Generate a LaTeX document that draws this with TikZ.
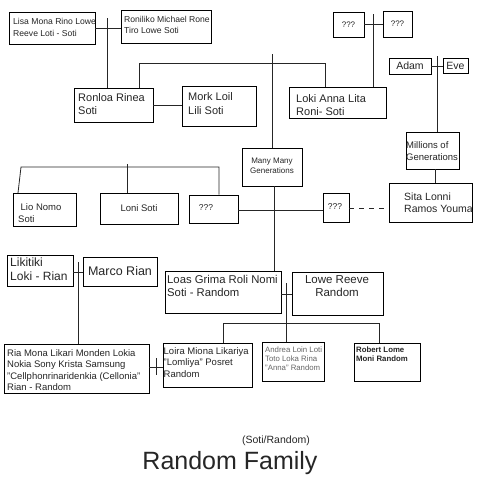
\documentclass[tikz,border=0pt]{standalone}
\usepackage{fontspec}
\setmainfont{Liberation Sans}
\usetikzlibrary{fit}
\newcommand\myfs[2]{\fontsize{#1}{#2}\selectfont}
\begin{document}
\begin{tikzpicture}[x=1pt,y=-1pt,
  pbox/.style={draw=black, line width=0.95pt, inner sep=0pt, rectangle},
  conn/.style={line width=0.8pt, draw=black!85},
  tl/.style={anchor=north west, inner sep=0pt, align=left, text=black!85},
  tc/.style={inner sep=0pt, align=center, text=black!85}]
\useasboundingbox[fill=white] (0,0) rectangle (480,480);
% boxes
\node[pbox, fit={(9,12) (95,44)}] (lisa) {};
\node[pbox, fit={(121,10) (211,43)}] (roni) {};
\node[pbox, fit={(74,88) (153,122)}] (ronloa) {};
\node[pbox, fit={(182,86) (256,126)}] (mork) {};
\node[pbox, fit={(289,87) (386,118)}] (loki) {};
\node[pbox, fit={(333,12) (364,37)}] (q1) {};
\node[pbox, fit={(383,11) (412,37)}] (q2) {};
\node[pbox, fit={(389,58) (431,74)}] (adam) {};
\node[pbox, fit={(443,58) (468,73)}] (eve) {};
\node[pbox, fit={(406,132) (459,169)}] (mill) {};
\node[pbox, fit={(242,148) (302,186)}] (many) {};
\node[pbox, fit={(389,183) (472,222)}] (sita) {};
\node[pbox, fit={(13,193) (76,226)}] (lio) {};
\node[pbox, fit={(100,193) (178,224)}] (loni) {};
\node[pbox, fit={(189,195) (238,223)}] (q3) {};
\node[pbox, fit={(323,193) (349,222)}] (q4) {};
\node[pbox, fit={(7,255) (73,286)}] (liki) {};
\node[pbox, fit={(83,257) (157,286)}] (marco) {};
\node[pbox, fit={(4,344) (149,393)}] (ria) {};
\node[pbox, fit={(163,343) (252,387)}] (loira) {};
\node[pbox, fit={(165,271) (281,313)}] (loas) {};
\node[pbox, fit={(292,272) (383,315)}] (lowe) {};
\node[pbox, fit={(262,342) (324,381)}] (andrea) {};
\node[pbox, fit={(354,343) (420,381)}] (robert) {};
% texts
\node[tl, font=\myfs{8.6}{11.5}] (tlisa) at (13,18.5) {Lisa Mona Rino Lowe\\Reeve Loti - Soti};
\node[tl, font=\myfs{8.6}{11.5}] (troni) at (124,16) {Roniliko Michael Rone\\Tiro Lowe Soti};
\node[tl, font=\myfs{11}{13.5}] (tronloa) at (78,93) {Ronloa Rinea\\Soti};
\node[tl, font=\myfs{11}{14}] (tmork) at (188,92) {Mork Loil\\Lili Soti};
\node[tl, font=\myfs{11}{13}] (tloki) at (296,94) {Loki Anna Lita\\Roni- Soti};
\node[tc, font=\myfs{8}{10}] (tq1) at (348.5,24.5) {???};
\node[tc, font=\myfs{8}{10}] (tq2) at (397.5,24) {???};
\node[tc, font=\myfs{10.5}{12}] (tadam) at (410,66) {Adam};
\node[tc, font=\myfs{10.5}{12}] (teve) at (455.5,65.5) {Eve};
\node[tl, font=\myfs{9.5}{12}] (tmill) at (406,141) {Millions of\\Generations};
\node[tc, anchor=north, font=\myfs{8}{10}] (tmany) at (272,157.5) {Many Many\\Generations};
\node[tl, font=\myfs{10.5}{12}] (tsita) at (404,193) {Sita Lonni\\Ramos Youma};
\node[tl, font=\myfs{9.5}{12}] (tlio) at (18,203) {\hspace{2.5pt}Lio Nomo\\Soti};
\node[tc, font=\myfs{9.5}{12}] (tloni) at (139,208) {Loni Soti};
\node[tc, font=\myfs{8.5}{10}] (tq3) at (206,208) {???};
\node[tc, font=\myfs{8.5}{10}] (tq4) at (335,207) {???};
\node[tl, font=\myfs{12}{14.5}] (tliki) at (10,257.5) {Likitiki\\Loki - Rian};
\node[tc, font=\myfs{12.5}{14}] (tmarco) at (120,271.5) {Marco Rian};
\node[tl, font=\myfs{9.5}{11.5}] (tria) at (7,349) {Ria Mona Likari Monden Lokia\\Nokia Sony Krista Samsung\\"Cellphonrinaridenkia (Cellonia"\\Rian - Random};
\node[tl, font=\myfs{9.5}{11.7}] (tloira) at (163.5,347) {Loira Miona Likariya\\"Lomliya" Posret\\Random};
\node[tl, font=\myfs{11.3}{13.5}] (tloas) at (167,275) {Loas Grima Roli Nomi\\Soti - Random};
\node[tc, anchor=north, font=\myfs{11.5}{13.5}] (tlowe) at (337,275) {Lowe Reeve\\Random};
\node[tl, font=\myfs{7.8}{9}, text=black!60] (tandrea) at (265,347) {Andrea Loin Loti\\Toto Loka Rina\\"Anna" Random};
\node[tl, font=\myfs{7.8}{9}\bfseries] (trobert) at (356,347) {Robert Lome\\Moni Random};
\node[tc, font=\myfs{10.5}{12}] (tsub) at (276,441) {(Soti/Random)};
\node[tc, font=\myfs{25}{28}] (ttitle) at (230,463) {Random Family};
% connector coordinates
\coordinate (j1) at (107,18);
\coordinate (j2) at (139,63);
\coordinate (j3) at (325,63);
\coordinate (j4) at (272,54);
\coordinate (j5) at (373,14);
\coordinate (j6) at (437,56);
\coordinate (j7) at (435,169);
\coordinate (j8) at (274,186);
\coordinate (r1) at (21,167);
\coordinate (r2) at (219,167);
\coordinate (r3) at (127,164);
\coordinate (j9) at (78,262);
\coordinate (j10) at (156,358);
\coordinate (j11) at (156,375);
\coordinate (j12) at (286,283);
\coordinate (h1) at (223,323);
\coordinate (h2) at (379,323);
% connectors
\draw[conn] (lisa.east) -- (lisa.east -| roni.west);
\draw[conn] (j1) -- (j1 |- ronloa.north);
\draw[conn] (ronloa.east) -- (ronloa.east -| mork.west);
\draw[conn] (j2 |- ronloa.north) -- (j2) -- (j3) -- (j3 |- loki.north);
\draw[conn] (j4) -- (j4 |- many.north);
\draw[conn] (q1.east) -- (q1.east -| q2.west);
\draw[conn] (j5) -- (j5 |- loki.north);
\draw[conn] (adam.east) -- (adam.east -| eve.west);
\draw[conn] (j6) -- (j6 |- mill.north);
\draw[conn] (j7) -- (j7 |- sita.north);
\draw[conn] (j8) -- (j8 |- loas.north);
\draw[conn] (q3.east |- 0,210) -- (q4.west |- 0,210);
\draw[conn, dash pattern=on 5pt off 5pt] (q4.east |- 0,208) -- (sita.west |- 0,208);
\draw[conn] (18,193) -- (r1) -- (r2) -- (r2 |- q3.north);
\draw[conn] (r3) -- (r3 |- loni.north);
\draw[conn] (liki.east |- 0,272) -- (marco.west |- 0,272);
\draw[conn] (j9) -- (j9 |- ria.north);
\draw[conn] (ria.east |- 0,367) -- (loira.west |- 0,367);
\draw[conn] (j10) -- (j11);
\draw[conn] (loas.east |- 0,294) -- (lowe.west |- 0,294);
\draw[conn] (j12) -- (j12 |- andrea.north);
\draw[conn] (h1 |- loira.north) -- (h1) -- (h2) -- (h2 |- robert.north);
\end{tikzpicture}
\end{document}
